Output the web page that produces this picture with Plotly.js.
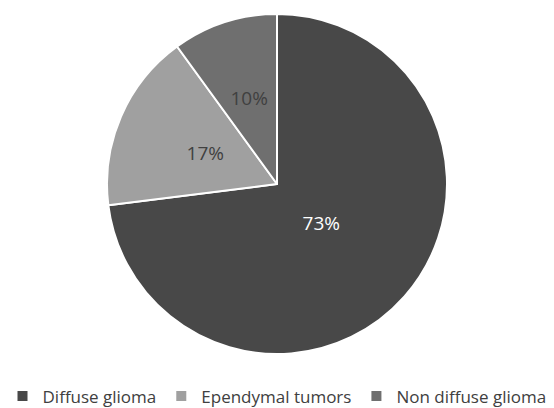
<!DOCTYPE html>
<html>
<head>
<meta charset="utf-8">
<script src="https://cdn.plot.ly/plotly-3.0.1.min.js"></script>
<style>html,body{margin:0;padding:0;background:#fff;}#chart{width:554px;height:408px;}</style>
</head>
<body>
<div id="chart"></div>
<script>
var categories = ["Diffuse glioma", "Ependymal tumors", "Non diffuse glioma"];
var values = [73, 17, 10];
var sliceColors = ["#484848", "#a0a0a0", "#6f6f6f"];
var labelColors = ["#ffffff", "#404040", "#404040"];

var FONT = "Open Sans, sans-serif";

// main pie: the slices and the legend
var pieTrace = {
  type: "pie",
  labels: categories,
  values: values,
  sort: false,
  direction: "clockwise",
  rotation: 0,
  marker: {colors: sliceColors, line: {color: "#ffffff", width: 2}},
  textinfo: "none",
  hoverinfo: "label+percent",
  domain: {x: [0, 1], y: [0, 1]}
};

// transparent inner pie carrying the percentage labels nearer the centre
var cx = 0.5, cy = 0.5, rx = 118 / 554, ry = 118 / 340;
var labelTrace = {
  type: "pie",
  labels: categories,
  values: values,
  sort: false,
  direction: "clockwise",
  rotation: 0,
  showlegend: false,
  marker: {colors: ["rgba(0,0,0,0)", "rgba(0,0,0,0)", "rgba(0,0,0,0)"], line: {width: 0}},
  texttemplate: "%{percent:.0%}",
  textposition: "inside",
  insidetextorientation: "horizontal",
  insidetextfont: {family: FONT, size: 19, color: labelColors},
  hoverinfo: "skip",
  domain: {x: [cx - rx, cx + rx], y: [cy - ry, cy + ry]}
};

var layout = {
  width: 554,
  height: 408,
  margin: {l: 0, r: 0, t: 14, b: 54, autoexpand: false},
  paper_bgcolor: "#ffffff",
  showlegend: true,
  legend: {
    orientation: "h",
    x: 0.5,
    xanchor: "center",
    y: -0.125,
    yanchor: "middle",
    font: {family: FONT, size: 17, color: "#404040"},
    itemwidth: 30
  }
};

Plotly.newPlot("chart", [pieTrace, labelTrace], layout, {displayModeBar: false, staticPlot: true});
</script>
</body>
</html>
